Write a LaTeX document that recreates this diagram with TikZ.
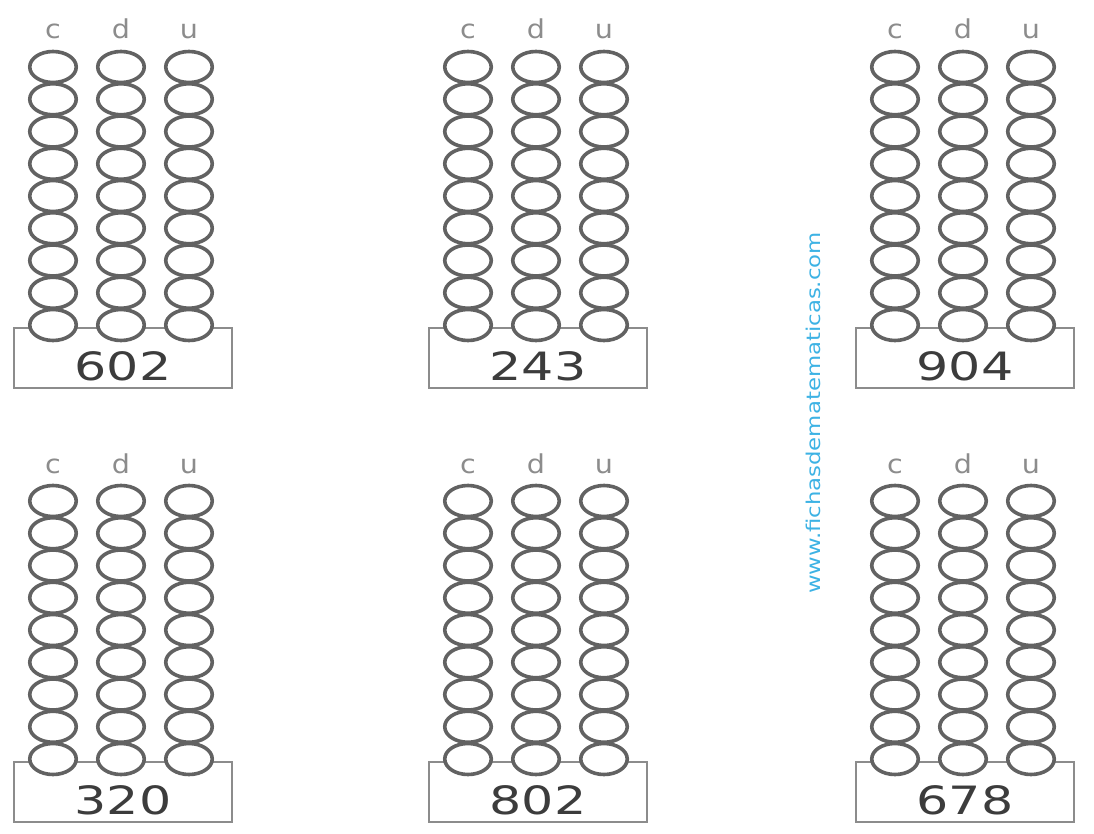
\documentclass[tikz,border=0pt]{standalone}
\usepackage{fontspec}
\setmainfont{DejaVu Sans}
\usetikzlibrary{shapes.geometric}

\definecolor{beadgray}{HTML}{626262}
\definecolor{boxgray}{HTML}{8C8C8C}
\definecolor{numgray}{HTML}{3C3C3C}
\definecolor{webblue}{HTML}{3DB2E4}

\tikzset{
    bead/.style={ellipse, draw=beadgray, line width=3.6pt, fill=white,
        minimum width=46.5pt, minimum height=31pt, inner sep=0pt},
    panelbox/.style={draw=boxgray, line width=2.2pt, minimum width=218pt,
        minimum height=60pt, inner sep=0pt},
    placelabel/.style={anchor=base, text=boxgray, xscale=1.1,
        font=\fontsize{26}{26}\selectfont},
    numlabel/.style={anchor=base, text=numgray, xscale=1.3,
        font=\fontsize{39}{39}\selectfont}
}

\begin{document}
\begin{tikzpicture}[x=1pt,y=-1pt]
    \useasboundingbox (0,0) rectangle (1094,834);
    % one abacus per number
    \foreach \name/\ox/\oy/\num in {a/14/328/602, b/429/328/243, c/856/328/904,
                                    d/14/762/320, e/429/762/802, f/856/762/678}{
        \node[panelbox] (\name box) at (\ox+109,\oy+30) {};
        \node[numlabel] (\name num) at (\ox+109,\oy+52) {\num};
        \foreach \col/\dx in {c/39,d/107,u/175}{
            \node[placelabel] (\name\col lab) at (\ox+\dx,\oy-289) {\col};
            \foreach \k in {1,...,9}
                \node[bead] (\name\col\k) at (\ox+\dx,\oy-3-32.25*9+32.25*\k) {};
        }
    }
    % watermark
    \node[rotate=90, xscale=1.2, text=webblue, font=\fontsize{19}{19}\selectfont]
        (web) at (813,413) {www.fichasdematematicas.com};
\end{tikzpicture}
\end{document}
